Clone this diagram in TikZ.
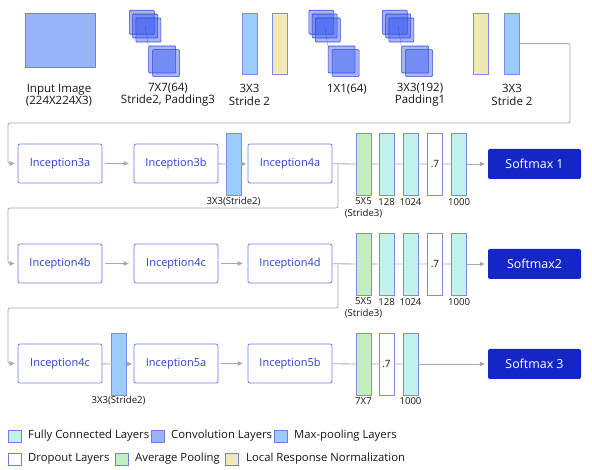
\documentclass[tikz,border=0pt]{standalone}
\usepackage{fontspec}
\setmainfont{Open Sans}
\usetikzlibrary{arrows.meta}
\definecolor{connc}{HTML}{A8A8A8}
\definecolor{incb}{HTML}{6F7FE6}
\definecolor{inct}{HTML}{2E3FD0}
\definecolor{smx}{HTML}{1427C6}
\definecolor{inimg}{HTML}{98B4F6}
\definecolor{mpool}{HTML}{9BCBFF}
\definecolor{lrn}{HTML}{F0E9B6}
\definecolor{apool}{HTML}{C2EEC2}
\definecolor{fcc}{HTML}{C3F1F0}
\definecolor{lyrb}{HTML}{7C8CE8}
\definecolor{convf}{HTML}{3A5AF0}
\definecolor{convb}{HTML}{2A3AD0}
\definecolor{txt}{HTML}{151515}
\begin{document}
\begin{tikzpicture}[x=1pt,y=-1pt,
  conn/.style={draw=connc, line width=0.8pt},
  arr/.style={conn, -{Triangle[length=5pt,width=4.5pt]}},
  inc/.style={draw=incb, fill=white, rounded corners=2pt, minimum width=84pt, minimum height=39pt, inner sep=0pt, text=inct, font=\fontsize{11}{13}\selectfont, line width=0.8pt},
  sm/.style={fill=smx, rounded corners=2pt, minimum width=93pt, minimum height=30pt, inner sep=0pt, text=white, font=\fontsize{12.4}{14}\selectfont},
  lyr/.style={draw=lyrb, line width=0.8pt, minimum width=15pt, minimum height=62pt, inner sep=0pt, font=\fontsize{10}{12}\selectfont, text=txt},
  mpl/.style={lyr, fill=mpool},
  lrnl/.style={lyr, fill=lrn},
  apl/.style={lyr, fill=apool},
  fcl/.style={lyr, fill=fcc},
  dol/.style={lyr, fill=white},
  lbl/.style={font=\fontsize{9.6}{11.8}\selectfont, inner sep=0pt, align=center, text=txt},
  tlbl/.style={font=\fontsize{11.5}{12.3}\selectfont, inner sep=0pt, align=center, text=txt},
  leg/.style={draw=incb, line width=0.8pt, minimum width=13pt, minimum height=12pt, inner sep=0pt},
  legt/.style={font=\fontsize{11.3}{13}\selectfont, anchor=west, inner sep=0pt, text=txt},
  convs/.style={draw=convb, fill=convf, fill opacity=0.45, draw opacity=0.9, line width=0.6pt, rounded corners=1pt, anchor=north west, inner sep=0pt},
  up/.style={convs, minimum width=25pt, minimum height=24pt},
  lo/.style={convs, minimum width=27pt, minimum height=27pt}
]
\useasboundingbox (0,0) rectangle (592,470);

% ---------- top row ----------
\node[draw=incb, fill=inimg, line width=0.8pt, minimum width=70pt, minimum height=54pt, inner sep=0pt] (img) at (60,40) {};
\node[tlbl] (limg) at (59,95) {Input Image\\(224X224X3)};

\foreach \s/\ox in {1/129, 2/308.5, 3/382}{
  \node[up] (c\s a) at (\ox,10) {};
  \node[up] (c\s b) at (\ox+3.3,13.7) {};
  \node[up] (c\s c) at (\ox+6.6,17.7) {};
  \node[lo] (c\s d) at (\ox+19.3,45.7) {};
  \node[lo] (c\s e) at (\ox+23.3,49.3) {};
  \draw[convb, line width=0.4pt, opacity=0.6] (c\s b.center) -- (c\s d.north west);
}
\node[tlbl] (lc1) at (168,95) {7X7(64)\\Stride2, Padding3};
\node[mpl, minimum height=61pt] (mp0) at (249.5,43.5) {};
\node[lrnl, minimum height=61pt] (lr0) at (279.5,43.5) {};
\node[tlbl] (lmp0) at (249.5,95) {3X3\\Stride 2};
\node[tlbl] (lc2) at (347,89) {1X1(64)};
\node[tlbl] (lc3) at (420,95) {3X3(192)\\Padding1};
\node[lrnl, minimum height=61pt] (lr1) at (481,43.5) {};
\node[mpl, minimum height=61pt] (mp2) at (512,43.5) {};
\node[tlbl] (lmp2) at (512,95) {3X3\\Stride 2};

% ---------- row 1 ----------
\node[inc] (i3a) at (60,163.5) {Inception3a};
\node[inc] (i3b) at (176,163.5) {Inception3b};
\node[mpl] (mp1) at (233.5,164) {};
\node[inc] (i4a) at (290,163.5) {Inception4a};
\node[apl] (ap1) at (363.5,164) {};
\node[fcl] (fa1) at (386.5,164) {};
\node[fcl] (fb1) at (410.5,164) {};
\node[dol] (do1) at (435,164) {.7};
\node[fcl] (fc1) at (459,164) {};
\node[sm] (sm1) at (534.5,164) {Softmax 1};
\node[lbl] (lmp1) at (233.5,202) {3X3(Stride2)};
\node[lbl] (lap1) at (363.5,208) {5X5\\(Stride3)};
\node[lbl] (lfa1) at (386.5,202) {128};
\node[lbl] (lfb1) at (410.5,202) {1024};
\node[lbl] (lfc1) at (459,202) {1000};

\coordinate (t1) at (570,123);
\coordinate (t2) at (8,123);
\draw[arr, rounded corners=2pt, shorten >=3pt] (mp2.east) -| (t1) -- (t2) |- (i3a.west);

\draw[arr, shorten <=3pt, shorten >=5pt] (i3a) -- (i3b);
\draw[conn] (i3b) -- (mp1);
\draw[arr, shorten >=1.5pt] (mp1) -- (i4a);
\draw[conn] (i4a) -- (ap1) -- (fa1) -- (fb1) -- (do1) -- (fc1);
\draw[arr, shorten >=3pt] (fc1) -- (sm1);

% ---------- row 2 ----------
\node[inc] (i4b) at (60,263.5) {Inception4b};
\node[inc] (i4c) at (176,263.5) {Inception4c};
\node[inc] (i4d) at (290,263.5) {Inception4d};
\node[apl] (ap2) at (363.5,264) {};
\node[fcl] (fa2) at (386.5,264) {};
\node[fcl] (fb2) at (410.5,264) {};
\node[dol] (do2) at (435,264) {.7};
\node[fcl] (fc2) at (459,264) {};
\node[sm] (sm2) at (534.5,264) {Softmax2};
\node[lbl] (lap2) at (363.5,308) {5X5\\(Stride3)};
\node[lbl] (lfa2) at (386.5,302) {128};
\node[lbl] (lfb2) at (410.5,302) {1024};
\node[lbl] (lfc2) at (459,302) {1000};

\coordinate (b1) at (338,163.5);
\coordinate (b1d) at (338,208);
\coordinate (b1l) at (8,208);
\draw[arr, rounded corners=2pt, shorten >=3pt] (b1) -- (b1d) -- (b1l) |- (i4b.west);

\draw[arr, shorten <=3pt, shorten >=5pt] (i4b) -- (i4c);
\draw[arr, shorten <=3pt, shorten >=5pt] (i4c) -- (i4d);
\draw[conn] (i4d) -- (ap2) -- (fa2) -- (fb2) -- (do2) -- (fc2);
\draw[arr, shorten >=3pt] (fc2) -- (sm2);

% ---------- row 3 ----------
\node[inc] (i4c2) at (60,363.5) {Inception4c};
\node[mpl] (mp3) at (118.5,364) {};
\node[inc] (i5a) at (176,363.5) {Inception5a};
\node[inc] (i5b) at (290,363.5) {Inception5b};
\node[apl] (ap3) at (363.5,364) {};
\node[dol] (do3) at (386.5,364) {.7};
\node[fcl] (fc3) at (410.5,364) {};
\node[sm] (sm3) at (534.5,364) {Softmax 3};
\node[lbl] (lmp3) at (118.5,401) {3X3(Stride2)};
\node[lbl] (lap3) at (363.5,401) {7X7};
\node[lbl] (lfc3) at (410.5,401) {1000};

\coordinate (b2) at (338,263.5);
\coordinate (b2d) at (338,308);
\coordinate (b2l) at (8,308);
\draw[arr, rounded corners=2pt, shorten >=3pt] (b2) -- (b2d) -- (b2l) |- (i4c2.west);

\draw[conn] (i4c2) -- (mp3);
\draw[arr, shorten >=1.5pt] (mp3) -- (i5a);
\draw[arr, shorten <=3pt, shorten >=5pt] (i5a) -- (i5b);
\draw[conn] (i5b) -- (ap3) -- (do3) -- (fc3);
\draw[arr, shorten >=3pt] (fc3) -- (sm3);

% ---------- legend ----------
\node[leg, fill=fcc] (g1) at (14.5,436) {};
\node[legt] (g1t) at (28,436) {Fully Connected Layers};
\node[leg, fill=inimg] (g2) at (158,436) {};
\node[legt] (g2t) at (171,436) {Convolution Layers};
\node[leg, fill=mpool] (g3) at (281,436) {};
\node[legt] (g3t) at (294,436) {Max-pooling Layers};
\node[leg, fill=white] (g4) at (14.5,459) {};
\node[legt] (g4t) at (28,459) {Dropout Layers};
\node[leg, fill=apool] (g5) at (122,459) {};
\node[legt] (g5t) at (135,459) {Average Pooling};
\node[leg, fill=lrn] (g6) at (232,459) {};
\node[legt] (g6t) at (246,459) {Local Response Normalization};
\end{tikzpicture}
\end{document}
